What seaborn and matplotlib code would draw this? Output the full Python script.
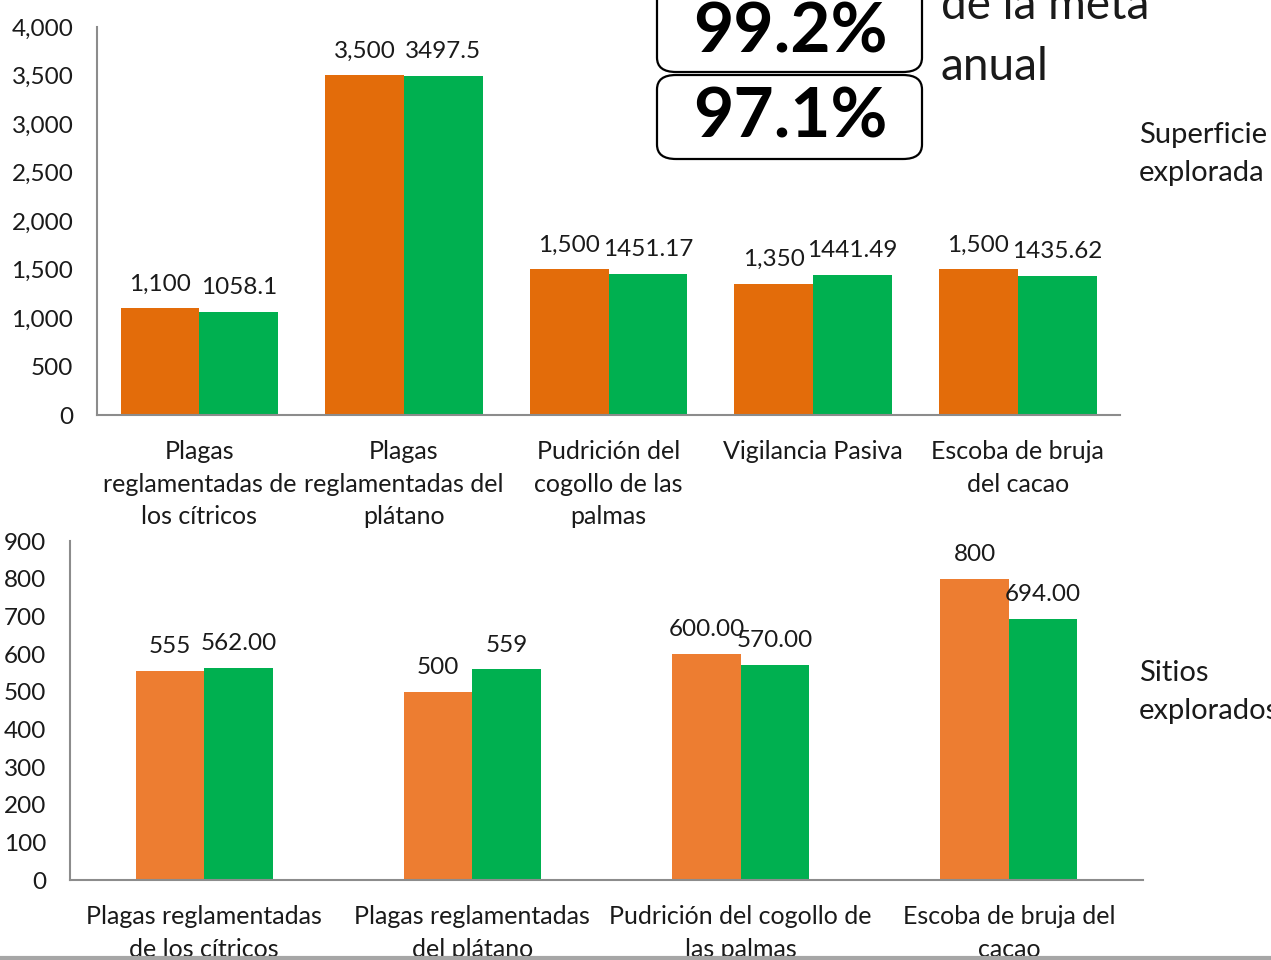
import pandas as pd
import matplotlib.pyplot as plt
import seaborn as sns
from matplotlib.patches import FancyBboxPatch
from matplotlib.lines import Line2D
from matplotlib.ticker import StrMethodFormatter

# --- datos: superficie explorada ---
sup_cats = ["Plagas\nreglamentadas de\nlos cítricos", "Plagas\nreglamentadas del\nplátano",
            "Pudrición del\ncogollo de las\npalmas", "Vigilancia Pasiva", "Escoba de bruja\ndel cacao"]
sup_meta = [1100, 3500, 1500, 1350, 1500]
sup_real = [1058.1, 3497.5, 1451.17, 1441.49, 1435.62]
sup_meta_lbl = ["1,100", "3,500", "1,500", "1,350", "1,500"]
sup_real_lbl = ["1058.1", "3497.5", "1451.17", "1441.49", "1435.62"]

# --- datos: sitios explorados ---
sit_cats = ["Plagas reglamentadas\nde los cítricos", "Plagas reglamentadas\ndel plátano",
            "Pudrición del cogollo de\nlas palmas", "Escoba de bruja del\ncacao"]
sit_meta = [555, 500, 600, 800]
sit_real = [562, 559, 570, 694]
sit_meta_lbl = ["555", "500", "600.00", "800"]
sit_real_lbl = ["562.00", "559", "570.00", "694.00"]

pct_sup = "99.2%"
pct_sit = "97.1%"

sns.set_style("white")
plt.rcParams['font.family'] = ['Lato', 'DejaVu Sans']
TXT = "#1a1a1a"


def long_df(cats, meta, real):
    return pd.DataFrame({
        "cat": cats * 2,
        "valor": meta + real,
        "serie": ["Meta"] * len(cats) + ["Realizado"] * len(cats),
    })


def draw(ax, cats, meta, real, meta_lbl, real_lbl, colors, width, ymax, step):
    sns.barplot(data=long_df(cats, meta, real), x="cat", y="valor", hue="serie",
                palette=colors, width=width, saturation=1, gap=0, legend=False,
                edgecolor="none", ax=ax)
    ax.bar_label(ax.containers[0], labels=meta_lbl, padding=10, fontsize=17.5, color=TXT)
    ax.bar_label(ax.containers[1], labels=real_lbl, padding=10, fontsize=17.5, color=TXT)
    ax.set_ylim(0, ymax)
    ax.set_yticks(range(0, ymax + 1, step))
    ax.set_xlim(-0.5, len(cats) - 0.5)
    ax.set_xlabel("")
    ax.set_ylabel("")
    for s in ["top", "right"]:
        ax.spines[s].set_visible(False)
    for s in ["left", "bottom"]:
        ax.spines[s].set_color("#8c8c8c")
        ax.spines[s].set_linewidth(1.5)
    ax.tick_params(axis="y", length=0, pad=17, labelsize=17.5, labelcolor=TXT)
    ax.tick_params(axis="x", length=0, pad=18, labelsize=18, labelcolor=TXT)
    for t in ax.get_xticklabels():
        t.set_linespacing(1.5)


fig = plt.figure(figsize=(12.71, 9.6), dpi=100)

ax1 = fig.add_axes([0.0763, 0.5677, 0.805, 0.4042])
draw(ax1, sup_cats, sup_meta, sup_real, sup_meta_lbl, sup_real_lbl,
     ["#E36C0A", "#00B050"], 0.77, 4000, 500)
ax1.yaxis.set_major_formatter(StrMethodFormatter("{x:,.0f}"))

ax2 = fig.add_axes([0.0551, 0.0833, 0.8442, 0.3531])
draw(ax2, sit_cats, sit_meta, sit_real, sit_meta_lbl, sit_real_lbl,
     ["#ED7D31", "#00B050"], 0.51, 900, 100)

# recuadros con porcentajes
W, H = 1271, 960
for (y0, y1, txt, yc) in [(-40, 72, pct_sup, 33), (75, 159, pct_sit, 118)]:
    box = FancyBboxPatch((657 / W, 1 - y1 / H), 265 / W, (y1 - y0) / H,
                         boxstyle="round,pad=0,rounding_size=0.015",
                         transform=fig.transFigure, facecolor="white",
                         edgecolor="black", linewidth=1.6, clip_on=False)
    fig.add_artist(box)
    fig.text(790 / W, 1 - yc / H, txt, ha="center", va="center",
             fontsize=50, fontweight="bold", color="black")

fig.text(941 / W, 1 - 19 / H, "de la meta", ha="left", va="baseline", fontsize=33, color=TXT)
fig.text(941 / W, 1 - 80 / H, "anual", ha="left", va="baseline", fontsize=33, color=TXT)

fig.text(1139 / W, 1 - 154 / H, "Superficie\nexplorada", ha="left", va="center",
         fontsize=21, color=TXT, linespacing=1.55)
fig.text(1139 / W, 1 - 692 / H, "Sitios\nexplorados", ha="left", va="center",
         fontsize=21, color=TXT, linespacing=1.55)

fig.add_artist(Line2D([0, 1], [1 - 958 / H, 1 - 958 / H], transform=fig.transFigure,
                      color="#a6a6a6", linewidth=3))

fig.savefig("out.png", dpi=100)
